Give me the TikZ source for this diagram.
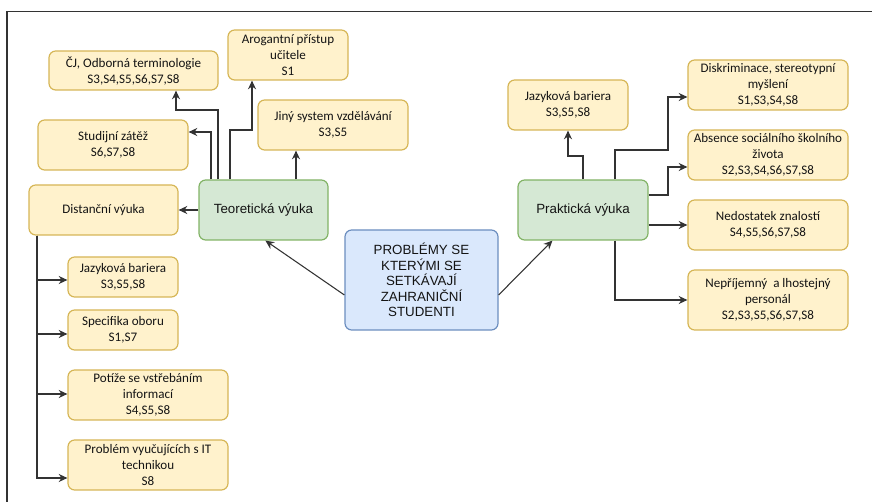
\documentclass[tikz,border=0pt]{standalone}
\usepackage{fontspec}
\setmainfont{Carlito}
\newfontfamily\arialfont{Liberation Sans}
\usetikzlibrary{arrows.meta,calc}

\definecolor{yfill}{HTML}{FFF2CC}
\definecolor{ydraw}{HTML}{D6B656}
\definecolor{gfill}{HTML}{D5E8D4}
\definecolor{gdraw}{HTML}{82B366}
\definecolor{bfill}{HTML}{DAE8FC}
\definecolor{bdraw}{HTML}{6C8EBF}
\definecolor{linecol}{HTML}{333333}
\definecolor{txt}{HTML}{141414}

\tikzset{
  box/.style={rectangle, rounded corners=5pt, line width=0.9pt, align=center,
    inner sep=0pt, text=txt},
  sz/.style 2 args={minimum width=#1*0.75pt, minimum height=#2*0.75pt},
  issue/.style={box, fill=yfill, draw=ydraw,
    font=\fontsize{9.8}{12}\selectfont},
  area/.style={box, fill=gfill, draw=gdraw,
    font=\arialfont\fontsize{10}{11.7}\selectfont},
  core/.style={box, fill=bfill, draw=bdraw,
    font=\arialfont\fontsize{10}{11.7}\selectfont},
  conn/.style={draw=linecol, line width=0.8pt,
    -{Stealth[length=6.5pt,width=6pt]}},
  frameline/.style={draw=black!80, line width=1.2pt}
}

\begin{document}
\begin{tikzpicture}[x=0.75pt, y=-0.75pt]
\useasboundingbox (0,0) rectangle (872,502);

% outer frame (top and left edges)
\draw[frameline] (7,502) -- (7,11.5) -- (872,11.5);

% central topic
\node[core, sz={153}{100}] (ctr) at (421.5,280)
  {PROBLÉMY SE\\KTERÝMI SE\\SETKÁVAJÍ\\ZAHRANIČNÍ\\STUDENTI};

% main areas
\node[area, sz={129}{60}] (teor) at (263.5,210) {Teoretická výuka};
\node[area, sz={130}{60}] (prak) at (583,210) {Praktická výuka};

% theoretical teaching issues
\node[issue, sz={169}{39}] (cj) at (133.5,70.5)
  {ČJ, Odborná terminologie\\S3,S4,S5,S6,S7,S8};
\node[issue, sz={120}{50}] (arog) at (288,55)
  {Arogantní přístup\\učitele\\S1};
\node[issue, sz={150}{50}] (jiny) at (333,125)
  {Jiný system vzdělávání\\S3,S5};
\node[issue, sz={150}{50}] (stud) at (113,145)
  {Studijní zátěž\\S6,S7,S8};
\node[issue, sz={149}{50}] (dist) at (103.5,210)
  {Distanční výuka};

% distance learning issues
\node[issue, sz={110}{40}] (jazL) at (123,277)
  {Jazyková bariera\\S3,S5,S8};
\node[issue, sz={110}{40}] (spec) at (123,330)
  {Specifika oboru\\S1,S7};
\node[issue, sz={160}{50}] (pot) at (148,395)
  {Potíže se vstřebáním\\informací\\S4,S5,S8};
\node[issue, sz={160}{50}] (prob) at (148,465)
  {Problém vyučujících s IT\\technikou\\S8};

% practical teaching issues
\node[issue, sz={120}{50}] (jazR) at (568,105)
  {Jazyková bariera\\S3,S5,S8};
\node[issue, sz={160}{50}] (disk) at (768,85)
  {Diskriminace, stereotypní\\myšlení\\S1,S3,S4,S8};
\node[issue, sz={160}{50}] (abs) at (768,155)
  {Absence sociálního školního\\života\\S2,S3,S4,S6,S7,S8};
\node[issue, sz={160}{50}] (ned) at (768,225)
  {Nedostatek znalostí\\S4,S5,S6,S7,S8};
\node[issue, sz={160}{60}] (nep) at (768,300)
  {Nepříjemný~ a lhostejný\\personál\\S2,S3,S5,S6,S7,S8};

% bend points
\coordinate (t1) at (218,110);
\coordinate (t2) at (176,110);
\coordinate (t3) at (211,132);
\coordinate (t4) at (230,130);
\coordinate (t5) at (252,130);
\coordinate (t6) at (296,0);
\coordinate (d0) at (37,0);
\coordinate (p1) at (615,150);
\coordinate (p2) at (668,150);
\coordinate (p3) at (668,97);
\coordinate (p4) at (668,195);
\coordinate (p5) at (668,167);
\coordinate (p6) at (583,156);

% centre to the two areas
\draw[conn] ($(ctr.west)+(0,15)$) -- ($(teor.south west)+(67,0)$);
\draw[conn] ($(ctr.east)+(0,15)$) -- ($(prak.south west)+(35,0)$);

% theoretical teaching connectors
\draw[conn] (teor.north -| t1) -- (t1) -- (t2) -- (cj.south -| t2);
\draw[conn] (teor.north -| t3) -- (t3) -- (stud.east |- t3);
\draw[conn] (teor.north -| t4) -- (t4) -- (t5) -- (arog.south -| t5);
\draw[conn] (teor.north -| t6) -- (jiny.south -| t6);
\draw[conn] (teor.west) -- (dist.east);

% distance learning connectors
\draw[conn] (dist.south -| d0) |- ($(jazL.west)+(0,3)$);
\draw[conn] (dist.south -| d0) |- ($(spec.west)+(0,4)$);
\draw[conn] (dist.south -| d0) |- ($(pot.west)+(0,-1)$);
\draw[conn] (dist.south -| d0) |- ($(prob.west)+(0,13)$);

% practical teaching connectors
\draw[conn] (prak.north -| p6) -- (p6) -| (jazR.south);
\draw[conn] (prak.north -| p1) -- (p1) -- (p2) -- (p3) -- (disk.west |- p3);
\draw[conn] (prak.east |- p4) -- (p4) -- (p5) -- (abs.west |- p5);
\draw[conn] (prak.east |- ned.west) -- (ned.west);
\draw[conn] (prak.south -| p1) |- (nep.west);
\end{tikzpicture}
\end{document}
